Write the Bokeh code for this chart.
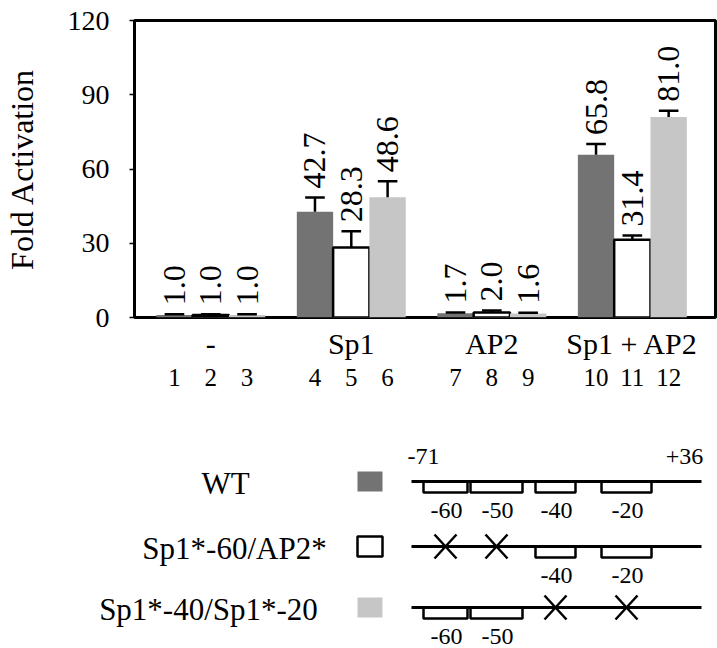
import math
from bokeh.plotting import figure
from bokeh.models import Range1d, FixedTicker, LinearAxis, ColumnDataSource
from bokeh.embed import file_html
from bokeh.resources import INLINE
from bokeh.core.properties import value

# ---------------- data ----------------
groups = ["-", "Sp1", "AP2", "Sp1 + AP2"]
lanes = ["1", "2", "3", "4", "5", "6", "7", "8", "9", "10", "11", "12"]
constructs = ["WT", "Sp1*-60/AP2*", "Sp1*-40/Sp1*-20"]
fold_wt = [1.0, 42.7, 1.7, 65.8]
fold_mut60 = [1.0, 28.3, 2.0, 31.4]
fold_mut40 = [1.0, 48.6, 1.6, 81.0]
err_wt = [0.3, 5.8, 0.3, 4.3]
err_mut60 = [0.3, 6.5, 0.8, 1.7]
err_mut40 = [0.3, 6.5, 0.3, 2.5]
y_ticks = [0, 30, 60, 90, 120]
site_labels = ["-60", "-50", "-40", "-20"]
site_mutated = [
    [False, False, False, False],
    [True, True, False, False],
    [False, False, True, True],
]
promoter_ends = ["-71", "+36"]

# ---------------- styles / layout ----------------
FONT = "Liberation Serif"
colors = ["#737373", "#ffffff", "#c6c6c6"]
outlines = [None, "black", None]
GROUP_PITCH = 3.87
BAR_W = 1.0
CAP_HALF = 0.27
W = 717
FRAME_L, FRAME_R = 121, 715
TOP_H = 400

series_vals = [fold_wt, fold_mut60, fold_mut40]
series_errs = [err_wt, err_mut60, err_mut40]

p = figure(width=W, height=TOP_H, output_backend="svg", toolbar_location=None,
           x_range=Range1d(-0.6, 15.4), y_range=Range1d(0, 120),
           x_axis_type=None,
           min_border_left=FRAME_L, min_border_right=W - FRAME_R, min_border_top=20,
           min_border_bottom=83)
p.grid.visible = False
p.outline_line_color = "black"
p.outline_line_width = 3
p.outline_line_alpha = 1.0

ya = p.yaxis[0]
ya.ticker = FixedTicker(ticks=y_ticks)
ya.major_label_text_font = FONT
ya.major_label_text_font_size = "28px"
ya.major_label_text_color = "black"
ya.major_tick_out = 5
ya.major_tick_in = 0
ya.minor_tick_out = 0
ya.minor_tick_in = 0
ya.major_tick_line_width = 1.5
ya.major_tick_line_color = "black"
ya.axis_line_color = "black"
ya.axis_line_width = 3
ya.major_label_standoff = 20
ya.axis_label = "Fold Activation"
ya.axis_label_text_font = FONT
ya.axis_label_text_font_size = "32px"
ya.axis_label_text_font_style = "normal"
ya.axis_label_text_color = "black"
ya.axis_label_standoff = 25

lane_x = []
group_x = []
for g in range(len(groups)):
    xs = [g * GROUP_PITCH + i * BAR_W + BAR_W / 2 for i in range(3)]
    group_x.append(xs[1])
    lane_x.extend(xs)

for i in range(3):
    xs = [lane_x[g * 3 + i] for g in range(len(groups))]
    vals = series_vals[i]
    errs = series_errs[i]
    tops = [v + e for v, e in zip(vals, errs)]
    src = ColumnDataSource(dict(
        x=xs, v=vals, top=tops,
        cl=[x - CAP_HALF for x in xs], cr=[x + CAP_HALF for x in xs],
        lbl=[f"{v:.1f}" for v in vals]))
    if outlines[i]:
        p.vbar(x="x", top="v", bottom=0, width=BAR_W, source=src,
               fill_color=colors[i], line_color=outlines[i], line_width=2.5)
    else:
        p.vbar(x="x", top="v", bottom=0, width=BAR_W, source=src,
               fill_color=colors[i], line_color=None)
    p.segment(x0="x", y0="v", x1="x", y1="top", source=src,
              line_color="black", line_width=2.5)
    p.segment(x0="cl", y0="top", x1="cr", y1="top", source=src,
              line_color="black", line_width=2.5)
    p.text(x="x", y="top", text="lbl", source=src, angle=math.pi / 2,
           text_align="left", text_baseline="middle", y_offset=-9,
           text_font=value(FONT), text_font_size="32px", text_color="black")

group_axis = LinearAxis(ticker=FixedTicker(ticks=group_x),
                        major_label_overrides={x: n for x, n in zip(group_x, groups)})
lane_axis = LinearAxis(ticker=FixedTicker(ticks=lane_x),
                       major_label_overrides={x: n for x, n in zip(lane_x, lanes)})
for ax in (group_axis, lane_axis):
    ax.axis_line_color = None
    ax.major_tick_line_color = None
    ax.minor_tick_line_color = None
    ax.major_tick_out = 0
    ax.major_tick_in = 0
    ax.minor_tick_out = 0
    ax.minor_tick_in = 0
    ax.major_label_text_font = FONT
    ax.major_label_text_color = "black"
group_axis.major_label_standoff = 9
group_axis.major_label_text_font_size = "30px"
lane_axis.major_label_standoff = 6
lane_axis.major_label_text_font_size = "25px"

p.add_layout(group_axis, "below")
p.add_layout(lane_axis, "below")

# ---------------- promoter diagram ----------------
D_H = 648 - TOP_H
d = figure(width=W, height=D_H, output_backend="svg", toolbar_location=None,
           x_range=Range1d(0, W), y_range=Range1d(648, TOP_H),
           x_axis_type=None, y_axis_type=None,
           min_border_left=0, min_border_right=0,
           min_border_top=0, min_border_bottom=0,
           outline_line_color=None)
d.grid.visible = False

row_y = [481, 546, 607]
label_cx = [225, 234, 208]
SWATCH_L, SWATCH_R = 357, 382
LINE_X0, LINE_X1 = 411, 701
slot_c = [445, 496, 555, 626]
slot_w = [44, 52, 40, 50]
BOX_DEPTH = 11
X_HALF_W, X_HALF_H = 11, 12
SITE_LABEL_DY = 29

d.text(x=label_cx, y=[y + 2 for y in row_y], text=constructs,
       text_align="center", text_baseline="middle",
       text_font=value(FONT), text_font_size="31px", text_color="black")
d.quad(left=[SWATCH_L] * 3, right=[SWATCH_R] * 3,
       top=[y - 10 for y in row_y], bottom=[y + 10 for y in row_y],
       fill_color=colors, line_color=["#737373", "black", "#c6c6c6"],
       line_width=[0, 2.5, 0])

bl, br, bt, bb = [], [], [], []
tx, ty, tt = [], [], []
xs0, ys0, xs1, ys1 = [], [], [], []
for r, muts in enumerate(site_mutated):
    y = row_y[r]
    for s, m in enumerate(muts):
        c = slot_c[s]
        if m:
            xs0 += [c - X_HALF_W, c - X_HALF_W]
            ys0 += [y - X_HALF_H, y + X_HALF_H]
            xs1 += [c + X_HALF_W, c + X_HALF_W]
            ys1 += [y + X_HALF_H, y - X_HALF_H]
        else:
            bl.append(c - slot_w[s] / 2)
            br.append(c + slot_w[s] / 2)
            bt.append(y)
            bb.append(y + BOX_DEPTH)
            tx.append(c + 1)
            ty.append(y + SITE_LABEL_DY)
            tt.append(site_labels[s])

d.quad(left=bl, right=br, top=bt, bottom=bb, fill_color="white",
       line_color="black", line_width=2.5)
d.segment(x0=[LINE_X0] * 3, y0=row_y, x1=[LINE_X1] * 3, y1=row_y,
          line_color="black", line_width=3)
d.segment(x0=xs0, y0=ys0, x1=xs1, y1=ys1, line_color="black", line_width=2.5)
d.text(x=tx, y=ty, text=tt, text_align="center", text_baseline="middle",
       text_font=value(FONT), text_font_size="24px", text_color="black")
d.text(x=[423, 684], y=[row_y[0] - 25] * 2, text=promoter_ends,
       text_align="center", text_baseline="middle",
       text_font=value(FONT), text_font_size="24px", text_color="black")

open("out.html", "w").write(file_html([p, d], INLINE))
